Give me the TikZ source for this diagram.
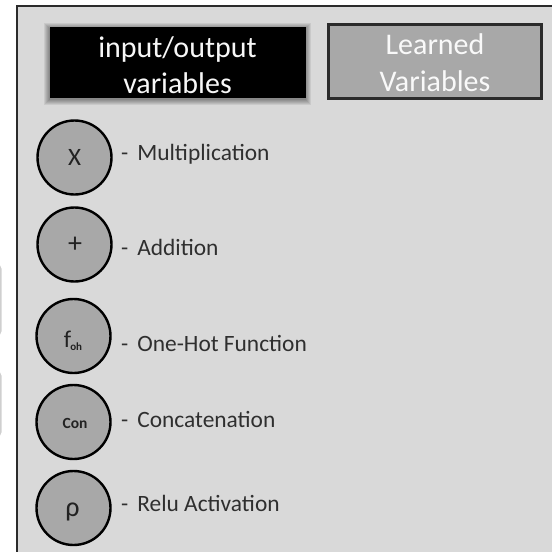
\documentclass[tikz,border=0pt]{standalone}
\usepackage{fontspec}
\setmainfont{Carlito}
\definecolor{panel}{HTML}{D9D9D9}
\definecolor{midgray}{HTML}{A8A8A8}
\definecolor{edgegray}{HTML}{2B2B2B}
\definecolor{labelgray}{HTML}{2F2F2F}
\definecolor{glyphgray}{HTML}{222222}
\definecolor{faint}{HTML}{CFCFCF}
\tikzset{
  opcircle/.style={circle, draw=black, line width=2.4pt, fill=midgray,
    minimum size=74pt, inner sep=0pt},
  oplabel/.style={anchor=base west, inner sep=0pt, text=labelgray,
    font=\fontsize{23.4}{26}\selectfont},
  optext/.style={text=glyphgray, inner sep=0pt},
  boxline/.style={anchor=base, inner sep=0pt, font=\fontsize{30}{34}\selectfont},
}
\begin{document}
\begin{tikzpicture}[x=1pt,y=-1pt]
\useasboundingbox (0,0) rectangle (552,552);
\clip (0,0) rectangle (552,552);

% neighbouring frames cut by the left edge
\draw[faint, line width=1.5pt, rounded corners=4pt] (-40,265) rectangle (0.8,335);
\draw[faint, line width=1.5pt, rounded corners=4pt] (-40,372) rectangle (0.8,436);

% legend panel
\draw[fill=panel, draw=edgegray, line width=2pt] (17,6) rectangle (580,580);

% soft shadow behind the black key box
\foreach \d in {1,...,6}
  \fill[black, opacity=0.07] (50-\d,27-\d+1.5) rectangle (305+\d,97+\d+1.5);

% key boxes
\node[draw=black, fill=black, minimum width=255pt, minimum height=70pt,
      inner sep=0pt] (io) at (177.5,62) {};
\node[boxline, text=white!94!gray] (io1) at (177.5,57) {input/output};
\node[boxline, text=white!94!gray] (io2) at (177.5,93) {variables};

\node[draw=edgegray, fill=midgray, line width=2.4pt, minimum width=213pt,
      minimum height=74pt, inner sep=0pt] (lv) at (435,61.5) {};
\node[boxline, text=white!95!gray] (lv1) at (435,54) {Learned};
\node[boxline, text=white!95!gray] (lv2) at (435,91) {Variables};

% operator symbols
\node[opcircle] (mul) at (74.5,157.5) {};
\node[optext, font=\fontsize{25}{25}\selectfont] at (mul) {X};
\node[oplabel] (mulL) at (121,160) {-\hspace{9pt}Multiplication};

\node[opcircle] (add) at (74.5,244.5) {};
\node[optext, font=\fontsize{28}{28}\selectfont] at (75,245) {+};
\node[oplabel] (addL) at (121,255) {-\hspace{9pt}Addition};

\node[opcircle] (foh) at (73.5,336) {};
\node[optext, font=\fontsize{24}{24}\selectfont, anchor=base] at (73,347)
  {f\hspace{-1pt}\raisebox{-3pt}{\bfseries\fontsize{11}{11}\selectfont oh}};
\node[oplabel] (fohL) at (121,351) {-\hspace{9pt}One-Hot Function};

\node[opcircle] (con) at (73.5,422) {};
\node[optext, font=\bfseries\fontsize{15.5}{15.5}\selectfont] at (75,423) {Con};
\node[oplabel] (conL) at (121,427) {-\hspace{9pt}Concatenation};

\node[opcircle] (rho) at (73.5,508) {};
\node[optext, font=\fontsize{28}{28}\selectfont, anchor=base] at (72.5,516) {ρ};
\node[oplabel] (rhoL) at (121,511) {-\hspace{9pt}Relu Activation};
\end{tikzpicture}
\end{document}
